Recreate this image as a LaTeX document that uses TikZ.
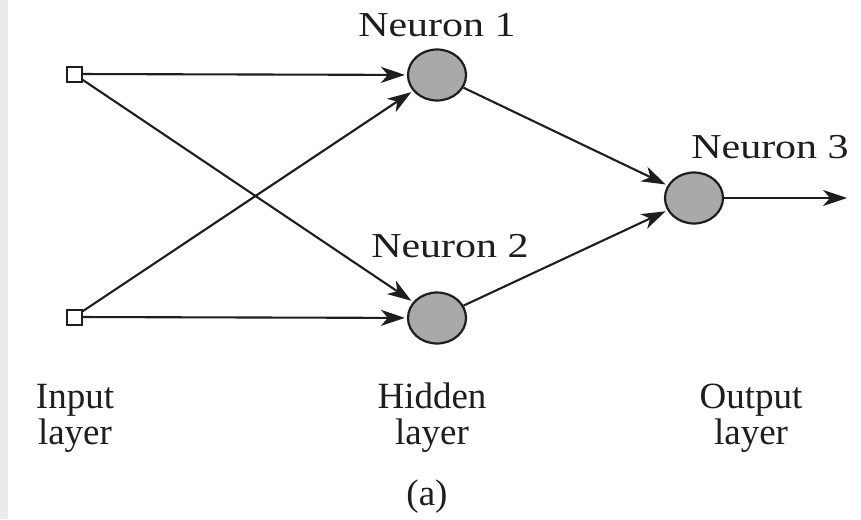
\documentclass[tikz,border=0pt]{standalone}
\usepackage{fontspec}
\setmainfont{Liberation Serif}
\usetikzlibrary{arrows.meta,shapes.geometric}
\definecolor{ink}{HTML}{1E1E1E}
\definecolor{neufill}{HTML}{A9A9A9}
\begin{document}
\begin{tikzpicture}[x=1pt,y=-1pt,
  inbox/.style={draw=ink,fill=white,line width=2pt,minimum size=15pt,inner sep=0pt},
  neuron/.style={ellipse,draw=ink,fill=neufill,line width=2.2pt,minimum width=58pt,minimum height=51pt,inner sep=0pt},
  conn/.style={draw=ink,line width=2.1pt,-{Stealth[length=24pt,width=16pt,inset=7pt]},shorten >=2pt},
  nlabel/.style={text=ink,font=\fontsize{35}{38}\selectfont,xscale=1.2,inner sep=0pt,anchor=base},
  llabel/.style={text=ink,font=\fontsize{37}{37}\selectfont,align=center,inner sep=0pt,anchor=base}
]
\useasboundingbox (0,0) rectangle (861,519);
\fill[white] (0,0) rectangle (861,519);
\fill[black!8] (0,0) rectangle (8,519);

\node[inbox] (in1) at (74,74) {};
\node[inbox] (in2) at (74,317) {};
\node[neuron] (n1) at (437,75) {};
\node[neuron] (n2) at (437,318) {};
\node[neuron] (n3) at (694,198) {};
\coordinate (out) at (847,198);

\draw[conn] (in1) -- (n1);
\draw[conn] (in1) -- (n2);
\draw[conn] (in2) -- (n1);
\draw[conn] (in2) -- (n2);
\draw[conn] (n1) -- (n3);
\draw[conn] (n2) -- (n3);
\draw[conn,shorten >=0pt] (n3) -- (out);

\node[nlabel] (l1) at (437,37) {Neuron 1};
\node[nlabel] (l2) at (450,257) {Neuron 2};
\node[nlabel] (l3) at (770,158) {Neuron 3};

\node[llabel] (li1) at (75,408) {Input};
\node[llabel] (li2) at (75,444) {layer};
\node[llabel] (lh1) at (432,408) {Hidden};
\node[llabel] (lh2) at (432,444) {layer};
\node[llabel] (lo1) at (751,408) {Output};
\node[llabel] (lo2) at (751,444) {layer};
\node[text=ink,font=\fontsize{37}{40}\selectfont,inner sep=0pt,anchor=base] (la) at (427,505) {(a)};
\end{tikzpicture}
\end{document}
